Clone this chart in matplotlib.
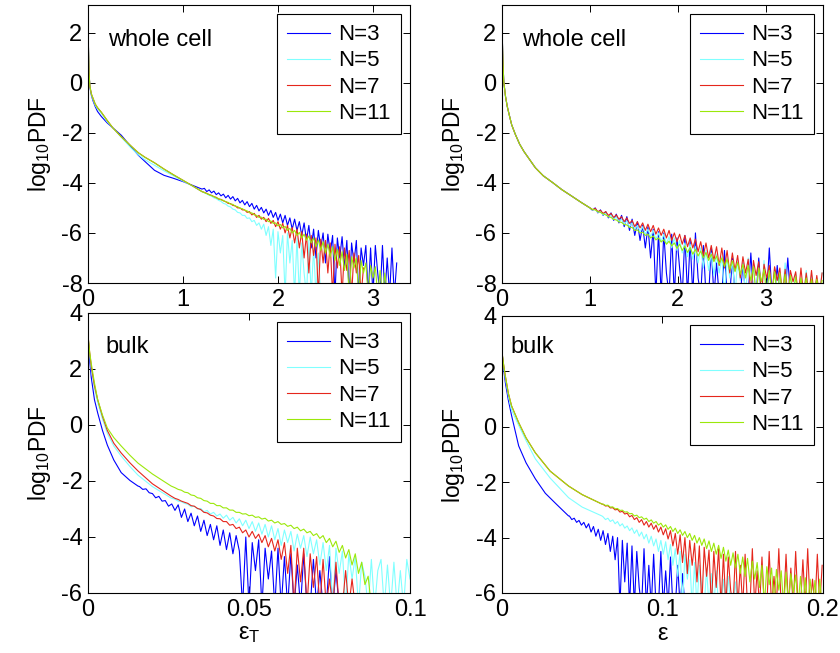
import numpy as np
import matplotlib.pyplot as plt

plt.rcParams['font.family'] = ['Liberation Sans', 'DejaVu Sans']
plt.rcParams['mathtext.fontset'] = 'custom'
plt.rcParams['mathtext.rm'] = 'Liberation Sans'
plt.rcParams['mathtext.it'] = 'Liberation Sans'
plt.rcParams['mathtext.default'] = 'regular'
plt.rcParams['axes.unicode_minus'] = False

labels = ['N=3', 'N=5', 'N=7', 'N=11']
colors = ['#0000ff', '#80ffff', '#e5261c', '#9be80a']

# ---- top left: whole cell, eps_T ----
p1_head_x = [0, 0.005, 0.01, 0.02, 0.035, 0.05, 0.075, 0.1, 0.14, 0.2, 0.26, 0.35,
             0.45, 0.53, 0.6, 0.7, 0.8, 0.9, 1.0, 1.1, 1.2]
p1_n3_head = [2.4, 1.3, 0.4, -0.2, -0.5, -0.7, -0.95, -1.15, -1.35, -1.6, -1.8, -2.1,
              -2.55, -2.9, -3.15, -3.5, -3.7, -3.82, -3.95, -4.1, -4.25]
p1_n5_head = [2.4, 1.3, 0.4, -0.15, -0.48, -0.65, -0.9, -1.05, -1.22, -1.55, -1.8, -2.18,
              -2.6, -2.88, -3.08, -3.3, -3.52, -3.72, -3.93, -4.13, -4.35]
p1_n7_head = [2.4, 1.3, 0.4, -0.15, -0.45, -0.6, -0.85, -1.0, -1.18, -1.5, -1.8, -2.16,
              -2.52, -2.8, -2.98, -3.2, -3.45, -3.68, -3.9, -4.12, -4.35]
p1_n11_head = [2.4, 1.3, 0.4, -0.15, -0.45, -0.6, -0.85, -1.0, -1.18, -1.5, -1.8, -2.16,
               -2.52, -2.8, -2.98, -3.2, -3.45, -3.68, -3.9, -4.12, -4.35]
p1_tail_start, p1_tail_step = 1.2, 0.025
p1_n3_tail = [-4.25, -4.22, -4.35, -4.28, -4.40, -4.33, -4.47, -4.40, -4.52, -4.45,
              -4.60, -4.50, -4.65, -4.55, -4.72, -4.62, -4.80, -4.70, -4.88, -4.75,
              -4.95, -4.82, -5.05, -4.90, -5.12, -4.98, -5.20, -5.05, -5.30, -5.10,
              -5.38, -5.18, -5.50, -5.25, -5.60, -5.30, -5.70, -5.40, -5.85, -5.45,
              -5.90, -5.55, -6.10, -5.60, -6.30, -5.70, -6.60, -5.85, -7.00, -5.90,
              -6.60, -6.00, -7.20, -6.05, -6.80, -6.10, -8.5, -6.20, -7.00, -6.15,
              -7.40, -6.30, -8.5, -6.40, -7.20, -6.30, -8.5, -6.60, -7.30, -6.50,
              -8.5, -6.60, -8.5, -6.50, -7.60, -8.5, -6.50, -8.5, -7.00, -8.5,
              -6.60, -8.5, -7.20]
p1_n5_tail = [-4.35, -4.40, -4.44, -4.50, -4.53, -4.60, -4.63, -4.70, -4.74, -4.82,
              -4.85, -4.93, -4.96, -5.05, -5.08, -5.18, -5.20, -5.30, -5.30, -5.42,
              -5.40, -5.55, -5.50, -5.70, -5.60, -5.85, -5.65, -6.10, -5.75, -6.50,
              -5.85, -7.80, -5.95, -6.80, -6.10, -8.5, -6.00, -7.20, -6.30, -8.5,
              -6.20, -8.5, -6.40, -7.60, -8.5, -6.30, -8.5, -6.60, -8.5, -6.80, -8.5]
p1_n7_tail = [-4.35, -4.38, -4.42, -4.47, -4.50, -4.55, -4.58, -4.65, -4.66, -4.72,
              -4.75, -4.82, -4.83, -4.90, -4.92, -5.00, -5.00, -5.08, -5.08, -5.18,
              -5.15, -5.28, -5.22, -5.38, -5.30, -5.45, -5.38, -5.55, -5.42, -5.62,
              -5.50, -5.75, -5.55, -5.85, -5.62, -6.00, -5.70, -6.20, -5.78, -6.40,
              -5.85, -6.60, -5.95, -7.00, -6.05, -7.60, -6.10, -6.90, -6.20, -8.5,
              -6.25, -7.20, -6.30, -7.60, -6.40, -8.5, -6.45, -7.40, -6.55, -8.5,
              -6.60, -7.50, -6.70, -8.5, -6.80, -7.60, -6.90, -8.5, -7.40]
p1_n11_tail = [-4.35, -4.39, -4.43, -4.47, -4.51, -4.55, -4.60, -4.63, -4.68, -4.70,
               -4.76, -4.78, -4.85, -4.86, -4.93, -4.95, -5.02, -5.03, -5.10, -5.12,
               -5.20, -5.20, -5.28, -5.30, -5.38, -5.37, -5.46, -5.45, -5.55, -5.52,
               -5.62, -5.60, -5.72, -5.66, -5.80, -5.74, -5.90, -5.82, -6.00, -5.90,
               -6.10, -5.98, -6.20, -6.05, -6.30, -6.12, -6.40, -6.20, -6.55, -6.28,
               -6.70, -6.35, -6.80, -6.45, -6.95, -6.55, -7.10, -6.65, -7.30, -6.75,
               -7.50, -6.85, -8.5, -6.95, -7.40, -7.00, -8.5, -7.10, -7.60, -7.20,
               -8.5, -7.30, -7.80, -7.35, -8.5, -7.50, -8.5, -7.60, -8.5]

# ---- top right: whole cell, eps ----
p2_head_x = [0, 0.005, 0.01, 0.02, 0.04, 0.06, 0.08, 0.11, 0.15, 0.2, 0.25, 0.3,
             0.38, 0.47, 0.58, 0.68, 0.78, 0.9, 1.0]
p2_head = [2.4, 1.6, 0.9, 0.05, -0.55, -0.95, -1.25, -1.68, -2.05, -2.45, -2.75, -3.0,
           -3.4, -3.72, -4.0, -4.27, -4.5, -4.78, -5.0]
p2_tail_start, p2_tail_step = 1.0, 0.03
p2_n3_tail = [-5.00, -5.10, -5.00, -5.20, -5.08, -5.30, -5.15, -5.40, -5.20, -5.50,
              -5.25, -5.60, -5.30, -5.75, -5.35, -5.90, -5.45, -6.10, -5.55, -6.30,
              -5.70, -6.60, -5.75, -7.00, -5.85, -8.5, -5.95, -8.5, -6.00, -7.60,
              -8.5, -6.05, -8.5, -6.20, -7.40, -8.5, -6.10, -8.5, -6.30, -8.5,
              -6.00, -7.80, -8.5, -6.50, -8.5, -8.5, -6.60, -8.5, -7.20, -8.5,
              -8.5, -6.70, -8.5, -8.5, -7.00, -8.5, -8.5, -8.5, -7.20, -8.5,
              -8.5, -6.80, -8.5, -8.5, -7.00, -8.5, -8.5, -8.5, -6.60, -8.5,
              -8.5, -7.30, -8.5, -8.5, -8.5, -7.00, -8.5]
p2_n5_tail = [-5.02, -5.10, -5.05, -5.18, -5.12, -5.28, -5.20, -5.36, -5.28, -5.45,
              -5.35, -5.55, -5.45, -5.65, -5.52, -5.75, -5.60, -5.85, -5.70, -5.95,
              -5.75, -6.05, -5.85, -6.15, -5.90, -6.25, -6.00, -6.35, -6.05, -6.45,
              -6.15, -6.60, -6.20, -6.70, -6.30, -6.80, -6.40, -6.95, -6.45, -7.05,
              -6.55, -7.20, -6.60, -7.40, -6.70, -7.50, -6.80, -7.70, -6.85, -7.60,
              -6.95, -8.5, -7.00, -7.80, -7.10, -8.5, -7.10, -7.90, -7.20, -8.5,
              -7.00, -8.5, -7.30, -8.5, -7.40, -8.5, -7.10, -8.5, -7.50, -8.5,
              -7.40, -8.5, -7.60, -8.5, -7.20, -8.5, -7.70, -8.5, -7.60, -8.5,
              -7.80, -8.5, -7.50, -8.5, -7.70, -8.5, -7.80, -8.5, -7.60]
p2_n7_tail = [-5.00, -5.08, -5.02, -5.15, -5.10, -5.22, -5.15, -5.30, -5.22, -5.38,
              -5.28, -5.45, -5.35, -5.55, -5.40, -5.62, -5.50, -5.75, -5.55, -5.80,
              -5.60, -5.90, -5.65, -5.95, -5.70, -6.05, -5.80, -6.10, -5.85, -6.20,
              -5.90, -6.30, -6.00, -6.35, -6.05, -6.45, -6.10, -6.55, -6.20, -6.60,
              -6.25, -6.75, -6.35, -6.90, -6.40, -7.00, -6.50, -7.10, -6.55, -7.30,
              -6.60, -7.40, -6.70, -7.60, -6.80, -7.50, -6.90, -7.80, -6.95, -7.60,
              -7.05, -8.5, -7.10, -7.70, -7.15, -8.5, -7.25, -7.80, -7.30, -8.5,
              -7.35, -7.90, -7.40, -8.5, -7.45, -8.5, -7.50, -7.95, -7.55, -8.5,
              -7.40, -8.5, -7.60, -8.5, -7.50, -8.5, -7.70, -8.5, -7.60]
p2_n11_tail = [-5.00, -5.06, -5.08, -5.15, -5.18, -5.24, -5.28, -5.35, -5.38, -5.46,
               -5.48, -5.56, -5.58, -5.67, -5.68, -5.78, -5.78, -5.90, -5.88, -6.00,
               -5.97, -6.10, -6.05, -6.20, -6.12, -6.28, -6.20, -6.36, -6.27, -6.45,
               -6.33, -6.52, -6.40, -6.62, -6.45, -6.70, -6.52, -6.78, -6.58, -6.85,
               -6.65, -6.92, -6.72, -7.00, -6.78, -7.10, -6.85, -7.15, -6.92, -7.25,
               -7.00, -7.35, -7.05, -7.45, -7.12, -7.55, -7.18, -7.65, -7.25, -7.80,
               -7.30, -7.90, -7.35, -8.5, -7.40, -7.95, -7.45, -8.5, -7.50, -8.5,
               -7.55, -8.5, -7.60, -8.5, -7.65, -8.5, -7.70, -8.5, -7.75, -8.5,
               -7.80, -8.5, -7.80, -8.5, -7.85, -8.5, -7.85, -8.5, -7.90]

# ---- bottom left: bulk, eps_T ----
p3_n3_head_x = [0, 0.0005, 0.001, 0.002, 0.003, 0.0045, 0.006, 0.008, 0.0103, 0.013, 0.0155]
p3_n3_head = [3.2, 2.3, 1.7, 0.9, 0.43, -0.2, -0.72, -1.25, -1.7, -1.98, -2.18]
p3_head_x = [0, 0.0005, 0.001, 0.002, 0.003, 0.0045, 0.006, 0.008, 0.0103, 0.013, 0.0155,
             0.02, 0.0258]
p3_n5_head = [3.2, 2.5, 2.0, 1.3, 0.8, 0.2, -0.3, -0.75, -1.11, -1.48, -1.79, -2.2, -2.61]
p3_n7_head = [3.2, 2.6, 2.1, 1.4, 0.9, 0.3, -0.2, -0.65, -1.0, -1.35, -1.64, -2.1, -2.54]
p3_n11_head = [3.2, 2.6, 2.2, 1.5, 0.9, 0.35, -0.11, -0.45, -0.75, -1.08, -1.36, -1.75, -2.18]
p3_tail_step = 0.001
p3_n3_tail_start = 0.016
p3_n3_tail = [-2.20, -2.30, -2.28, -2.42, -2.45, -2.60, -2.55, -2.72, -2.70, -2.90,
              -2.82, -3.05, -2.85, -3.30, -3.00, -3.45, -3.15, -3.60, -3.25, -3.80,
              -3.40, -3.95, -3.55, -4.10, -3.60, -4.30, -3.75, -4.45, -3.85, -4.60,
              -3.95, -4.50, -6.5, -4.00, -6.5, -4.20, -5.20, -4.10, -6.5, -4.40,
              -5.50, -4.50, -6.5, -4.40, -6.5, -4.70, -6.5, -4.60, -6.5, -5.00,
              -6.5, -4.60, -6.5, -6.5, -4.80, -6.5, -5.20, -6.5, -6.5, -4.70,
              -6.5, -5.20, -6.5, -6.5]
p3_tail_start = 0.027
p3_n5_tail = [-2.65, -2.72, -2.74, -2.80, -2.83, -2.92, -2.90, -3.00, -2.98, -3.10,
              -3.05, -3.18, -3.12, -3.25, -3.18, -3.33, -3.22, -3.40, -3.30, -3.50,
              -3.35, -3.60, -3.40, -3.70, -3.45, -3.80, -3.50, -3.90, -3.55, -4.00,
              -3.60, -4.10, -3.70, -4.30, -3.75, -4.20, -3.80, -4.50, -3.90, -4.40,
              -3.95, -4.70, -4.00, -4.60, -4.10, -5.00, -4.20, -5.20, -4.30, -6.5,
              -4.40, -5.30, -4.50, -6.5, -4.60, -5.50, -4.70, -6.5, -4.90, -5.40,
              -6.5, -4.80, -6.5, -5.20, -4.80, -6.5, -5.00, -6.5, -4.90, -6.5,
              -5.20, -6.5, -4.80, -5.50]
p3_n7_tail = [-2.62, -2.66, -2.72, -2.76, -2.80, -2.88, -2.90, -2.98, -3.02, -3.12,
              -3.14, -3.22, -3.25, -3.34, -3.35, -3.45, -3.45, -3.58, -3.55, -3.70,
              -3.65, -3.85, -3.75, -4.00, -3.80, -4.05, -3.90, -4.20, -3.95, -4.35,
              -4.05, -4.50, -4.10, -4.80, -4.20, -5.30, -4.30, -6.5, -4.40, -5.60,
              -4.40, -6.5, -4.60, -5.80, -4.70, -6.5, -4.80, -6.5, -5.50, -6.5,
              -4.90, -6.5, -6.5, -5.20, -6.5, -5.50, -6.5]
p3_n11_tail = [-2.24, -2.30, -2.33, -2.40, -2.42, -2.50, -2.52, -2.60, -2.62, -2.70,
               -2.72, -2.80, -2.80, -2.88, -2.88, -2.96, -2.96, -3.04, -3.04, -3.12,
               -3.12, -3.18, -3.17, -3.24, -3.22, -3.30, -3.28, -3.36, -3.33, -3.43,
               -3.40, -3.50, -3.45, -3.55, -3.52, -3.62, -3.58, -3.70, -3.65, -3.78,
               -3.72, -3.85, -3.80, -3.95, -3.88, -4.05, -3.95, -4.20, -4.05, -4.35,
               -4.15, -4.55, -4.30, -4.75, -4.45, -5.00, -4.60, -5.30, -4.90, -5.70,
               -5.40, -6.5]

# ---- bottom right: bulk, eps ----
p4_n3_head_x = [0, 0.001, 0.0021, 0.004, 0.006, 0.0104, 0.015, 0.0208, 0.027, 0.034, 0.0415]
p4_n3_head = [2.7, 2.1, 1.59, 0.95, 0.4, -0.69, -1.3, -1.88, -2.4, -2.8, -3.22]
p4_head_x = [0, 0.001, 0.0021, 0.004, 0.006, 0.0104, 0.015, 0.0208, 0.03, 0.0415, 0.05, 0.0623]
p4_n5_head = [2.7, 2.2, 1.75, 1.1, 0.6, 0.05, -0.5, -1.16, -1.85, -2.56, -2.9, -3.22]
p4_n7_head = [2.7, 2.25, 1.83, 1.2, 0.75, 0.15, -0.4, -0.94, -1.6, -2.14, -2.45, -2.79]
p4_n11_head = [2.7, 2.25, 1.83, 1.2, 0.75, 0.15, -0.4, -0.94, -1.6, -2.14, -2.45, -2.79]
p4_tail_step = 0.0015
p4_n3_tail_start = 0.042
p4_n3_tail = [-3.22, -3.35, -3.30, -3.45, -3.38, -3.55, -3.45, -3.65, -3.50, -3.80,
              -3.60, -3.95, -3.70, -4.10, -3.75, -4.25, -3.85, -4.50, -3.95, -4.80,
              -4.00, -6.5, -4.10, -5.60, -4.20, -6.5, -4.30, -6.5, -4.50, -5.80,
              -6.5, -4.40, -6.5, -5.00, -6.5, -4.60, -6.5, -6.5, -4.50, -6.5,
              -5.20, -6.5, -4.70, -6.5, -6.5, -5.00, -6.5, -5.30, -6.5]
p4_tail_start = 0.063
p4_n5_tail = [-3.25, -3.35, -3.30, -3.42, -3.36, -3.50, -3.42, -3.58, -3.50, -3.66,
              -3.58, -3.75, -3.65, -3.85, -3.72, -3.95, -3.80, -4.05, -3.88, -4.20,
              -3.95, -4.30, -4.05, -4.50, -4.10, -4.60, -4.15, -4.80, -4.25, -5.00,
              -4.40, -5.40, -4.50, -6.5, -4.60, -5.50, -4.80, -6.5, -4.90, -6.5,
              -5.00, -5.80, -6.5, -5.10, -6.5, -5.30, -6.5, -5.20, -6.5, -6.5,
              -5.50, -6.5, -5.40, -6.5, -6.5, -5.60, -6.5]
p4_n7_tail = [-2.80, -2.86, -2.85, -2.93, -2.92, -3.00, -2.98, -3.08, -3.05, -3.15,
              -3.12, -3.25, -3.20, -3.35, -3.28, -3.45, -3.35, -3.55, -3.42, -3.62,
              -3.48, -3.70, -3.55, -3.80, -3.62, -3.90, -3.68, -4.05, -3.75, -4.30,
              -3.85, -4.60, -3.90, -4.90, -4.00, -5.30, -4.10, -5.00, -4.20, -5.60,
              -4.30, -6.5, -4.35, -5.40, -4.45, -6.5, -4.50, -5.80, -4.40, -6.5,
              -4.60, -6.5, -4.70, -5.90, -6.5, -4.50, -6.5, -5.00, -6.5, -4.60,
              -6.5, -6.5, -4.40, -6.5, -5.20, -6.5, -4.70, -6.5, -6.5, -4.50,
              -6.5, -5.40, -6.5, -4.40, -6.5, -6.5, -4.60, -6.5, -5.10, -6.5,
              -4.50, -6.5, -6.5, -4.80, -6.5, -4.40, -6.5, -5.50, -6.5, -4.60,
              -6.5, -5.00]
p4_n11_tail = [-2.79, -2.84, -2.83, -2.90, -2.89, -2.96, -2.95, -3.02, -3.01, -3.08,
               -3.07, -3.14, -3.13, -3.22, -3.19, -3.28, -3.25, -3.34, -3.30, -3.42,
               -3.36, -3.48, -3.42, -3.55, -3.48, -3.62, -3.54, -3.70, -3.60, -3.78,
               -3.66, -3.85, -3.72, -3.92, -3.78, -4.00, -3.85, -4.10, -3.92, -4.20,
               -4.00, -4.28, -4.05, -4.40, -4.12, -4.50, -4.20, -4.60, -4.28, -4.75,
               -4.35, -4.85, -4.45, -5.00, -4.55, -5.10, -4.60, -5.30, -4.70, -5.40,
               -4.75, -5.60, -4.85, -5.50, -4.90, -5.80, -5.00, -6.5, -5.05, -5.70,
               -5.10, -6.5, -5.15, -5.90, -5.20, -6.5, -5.25, -6.5, -5.30, -6.0,
               -5.35, -6.5, -5.40, -6.5, -5.45, -6.5, -5.50, -6.5, -5.55, -6.5,
               -5.50, -6.5]


def curve(head_x, head_y, start, step, tail):
    x = np.concatenate([head_x, start + step * np.arange(len(tail))])
    y = np.concatenate([head_y, tail])
    return x, y


panels = [
    dict(curves=[curve(p1_head_x, p1_n3_head, p1_tail_start, p1_tail_step, p1_n3_tail),
                 curve(p1_head_x, p1_n5_head, p1_tail_start, p1_tail_step, p1_n5_tail),
                 curve(p1_head_x, p1_n7_head, p1_tail_start, p1_tail_step, p1_n7_tail),
                 curve(p1_head_x, p1_n11_head, p1_tail_start, p1_tail_step, p1_n11_tail)],
         xlim=(0, 3.39), ylim=(-8, 3.1), xticks=[0, 1, 2, 3], xtl=['0', '1', '2', '3'],
         yticks=[-8, -6, -4, -2, 0, 2], tag='whole cell', tagpos=(0.062, 0.875), xlabel=None),
    dict(curves=[curve(p2_head_x, p2_head, p2_tail_start, p2_tail_step, p2_n3_tail),
                 curve(p2_head_x, p2_head, p2_tail_start, p2_tail_step, p2_n5_tail),
                 curve(p2_head_x, p2_head, p2_tail_start, p2_tail_step, p2_n7_tail),
                 curve(p2_head_x, p2_head, p2_tail_start, p2_tail_step, p2_n11_tail)],
         xlim=(0, 3.65), ylim=(-8, 3.1), xticks=[0, 1, 2, 3], xtl=['0', '1', '2', '3'],
         yticks=[-8, -6, -4, -2, 0, 2], tag='whole cell', tagpos=(0.062, 0.875), xlabel=None),
    dict(curves=[curve(p3_n3_head_x, p3_n3_head, p3_n3_tail_start, p3_tail_step, p3_n3_tail),
                 curve(p3_head_x, p3_n5_head, p3_tail_start, p3_tail_step, p3_n5_tail),
                 curve(p3_head_x, p3_n7_head, p3_tail_start, p3_tail_step, p3_n7_tail),
                 curve(p3_head_x, p3_n11_head, p3_tail_start, p3_tail_step, p3_n11_tail)],
         xlim=(0, 0.1), ylim=(-6, 4), xticks=[0, 0.05, 0.1], xtl=['0', '0.05', '0.1'],
         yticks=[-6, -4, -2, 0, 2, 4], tag='bulk', tagpos=(0.053, 0.88), xlabel='ε$_T$'),
    dict(curves=[curve(p4_n3_head_x, p4_n3_head, p4_n3_tail_start, p4_tail_step, p4_n3_tail),
                 curve(p4_head_x, p4_n5_head, p4_tail_start, p4_tail_step, p4_n5_tail),
                 curve(p4_head_x, p4_n7_head, p4_tail_start, p4_tail_step, p4_n7_tail),
                 curve(p4_head_x, p4_n11_head, p4_tail_start, p4_tail_step, p4_n11_tail)],
         xlim=(0, 0.2), ylim=(-6, 4), xticks=[0, 0.1, 0.2], xtl=['0', '0.1', '0.2'],
         yticks=[-6, -4, -2, 0, 2, 4], tag='bulk', tagpos=(0.025, 0.888), xlabel='ε'),
]

rects = [[0.1048, 0.5666, 0.3833, 0.4257],
         [0.5976, 0.5666, 0.3821, 0.4257],
         [0.1048, 0.0919, 0.3833, 0.4288],
         [0.5976, 0.0919, 0.3821, 0.4242]]

fig = plt.figure(figsize=(8.4, 6.53), dpi=100)
for rect, p in zip(rects, panels):
    ax = fig.add_axes(rect)
    for (x, y), c, lab in zip(p['curves'], colors, labels):
        ax.plot(x, y, color=c, lw=0.8, label=lab)
    ax.set_xlim(p['xlim'])
    ax.set_ylim(p['ylim'])
    ax.set_xticks(p['xticks'])
    ax.set_xticklabels(p['xtl'])
    ax.set_yticks(p['yticks'])
    ax.tick_params(direction='in', top=True, right=True, length=5, width=0.7,
                   labelsize=17, pad=4)
    for s in ax.spines.values():
        s.set_linewidth(0.8)
    ax.set_ylabel('log$_{10}$PDF', fontsize=16.5, labelpad=6)
    if p['xlabel']:
        ax.set_xlabel(p['xlabel'], fontsize=17, labelpad=2)
    ax.text(p['tagpos'][0], p['tagpos'][1], p['tag'], transform=ax.transAxes,
            fontsize=17, va='center', ha='left')
    leg = ax.legend(loc='upper right', fontsize=16, fancybox=False, framealpha=1,
                    edgecolor='black', handlelength=1.95, borderaxespad=0.42,
                    labelspacing=0.23, handletextpad=0.35, borderpad=0.45)
    leg.get_frame().set_linewidth(0.8)

fig.savefig('out.png', dpi=100)
